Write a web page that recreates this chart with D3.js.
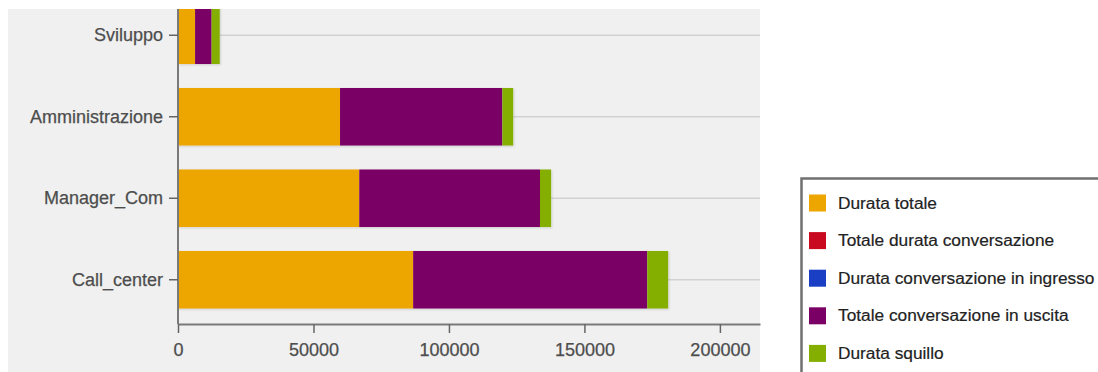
<!DOCTYPE html>
<html>
<head>
<meta charset="utf-8">
<script src="https://cdn.jsdelivr.net/npm/d3@7"></script>
<style>
  html, body { margin: 0; padding: 0; background: #ffffff; }
  svg { display: block; }
  text { font-family: "Liberation Sans", Arial, sans-serif; }
</style>
</head>
<body>
<svg id="chart" width="1098" height="372"></svg>
<script>
// ---- data ----
const categories = ["Sviluppo", "Amministrazione", "Manager_Com", "Call_center"];
const seriesNames = [
  "Durata totale",
  "Totale durata conversazione",
  "Durata conversazione in ingresso",
  "Totale conversazione in uscita",
  "Durata squillo"
];
const seriesColors = ["#eda500", "#c8091f", "#1a3fc4", "#7a0065", "#84ae00"];
const durataTotale        = [6300, 59800, 66900, 86800];
const totaleDurataConv    = [0, 0, 0, 0];
const durataConvIngresso  = [0, 0, 0, 0];
const totaleConvUscita    = [6100, 59900, 66700, 86400];
const durataSquillo       = [3000, 4000, 4100, 7700];
const xTicks = [0, 50000, 100000, 150000, 200000];

const seriesValues = [durataTotale, totaleDurataConv, durataConvIngresso, totaleConvUscita, durataSquillo];
const rows = categories.map((c, i) => {
  const r = { cat: c };
  seriesNames.forEach((s, j) => { r[s] = seriesValues[j][i]; });
  return r;
});

const svg = d3.select("#chart");

// plot background
const plot = { left: 8, top: 9, right: 760, bottom: 372 };
svg.append("rect")
  .attr("x", plot.left).attr("y", plot.top)
  .attr("width", plot.right - plot.left).attr("height", plot.bottom - plot.top)
  .attr("fill", "#f0f0f0");

svg.append("defs").append("clipPath").attr("id", "clip")
  .append("rect").attr("x", plot.left).attr("y", plot.top)
  .attr("width", plot.right - plot.left).attr("height", plot.bottom - plot.top);

const x = d3.scaleLinear().domain([0, 214800]).range([178, 760]);
const y = d3.scaleBand().domain(categories).range([-9, 324])
  .paddingInner(0.294).paddingOuter(0.19);

const g = svg.append("g").attr("clip-path", "url(#clip)");

// grid lines at category centers
const stack = d3.stack().keys(seriesNames)(rows);
const totals = rows.map(r => d3.sum(seriesNames, s => r[s]));
g.append("g").selectAll("line").data(categories).join("line")
  .attr("x1", (d, i) => x(totals[i])).attr("x2", 760)
  .attr("y1", d => y(d) + y.bandwidth() / 2).attr("y2", d => y(d) + y.bandwidth() / 2)
  .attr("stroke", "#d2d2d2").attr("stroke-width", 1.5);

// shadow filter
const f = svg.select("defs").append("filter").attr("id", "sh")
  .attr("x", "-5%").attr("y", "-10%").attr("width", "110%").attr("height", "125%");
f.append("feDropShadow").attr("dx", 1).attr("dy", 1).attr("stdDeviation", 1)
  .attr("flood-color", "#000").attr("flood-opacity", 0.15);

const barsG = g.append("g").attr("filter", "url(#sh)");
stack.forEach((layer, j) => {
  barsG.append("g").attr("fill", seriesColors[j])
    .selectAll("rect").data(layer).join("rect")
    .attr("x", d => x(d[0]))
    .attr("width", d => Math.max(0, x(d[1]) - x(d[0])))
    .attr("y", d => y(d.data.cat))
    .attr("height", y.bandwidth());
});

// y axis
const yAxis = svg.append("g").attr("transform", "translate(178,0)")
  .call(d3.axisLeft(y).tickSize(9).tickPadding(6).tickSizeOuter(0));
yAxis.select(".domain").attr("stroke", "#7a7a7a").attr("stroke-width", 2).attr("d", "M0,9V324");
yAxis.selectAll(".tick line").attr("stroke", "#666").attr("stroke-width", 1.5);
yAxis.selectAll(".tick text").attr("fill", "#4d4d4d").style("font-size", "18px")
  .attr("stroke", "#4d4d4d").attr("stroke-width", 0.25)
  .style("font-family", "'Liberation Sans', Arial, sans-serif");

// x axis
const xAxis = svg.append("g").attr("transform", "translate(0,324)")
  .call(d3.axisBottom(x).tickValues(xTicks).tickFormat(d3.format("d")).tickSize(9).tickPadding(10).tickSizeOuter(0));
xAxis.select(".domain").attr("stroke", "#7a7a7a").attr("stroke-width", 2);
xAxis.selectAll(".tick line").attr("stroke", "#666").attr("stroke-width", 1.5);
xAxis.selectAll(".tick text").attr("fill", "#4d4d4d").style("font-size", "18px")
  .attr("stroke", "#4d4d4d").attr("stroke-width", 0.25)
  .style("font-family", "'Liberation Sans', Arial, sans-serif");

// legend
const lg = svg.append("g");
lg.append("rect").attr("x", 801.5).attr("y", 178.5).attr("width", 320).attr("height", 220)
  .attr("fill", "#ffffff").attr("stroke", "#707070").attr("stroke-width", 2.5);
const items = lg.selectAll("g.item").data(seriesNames).join("g").attr("class", "item")
  .attr("transform", (d, i) => `translate(809, ${202.5 + i * 37.6})`);
items.append("rect").attr("x", 0).attr("y", -8).attr("width", 17).attr("height", 17)
  .attr("fill", (d, i) => seriesColors[i]);
items.append("text").attr("x", 29).attr("y", 0).attr("dy", "0.35em")
  .attr("fill", "#222").attr("stroke", "#222").attr("stroke-width", 0.2)
  .style("font-size", "17.3px").text(d => d);
</script>
</body>
</html>
